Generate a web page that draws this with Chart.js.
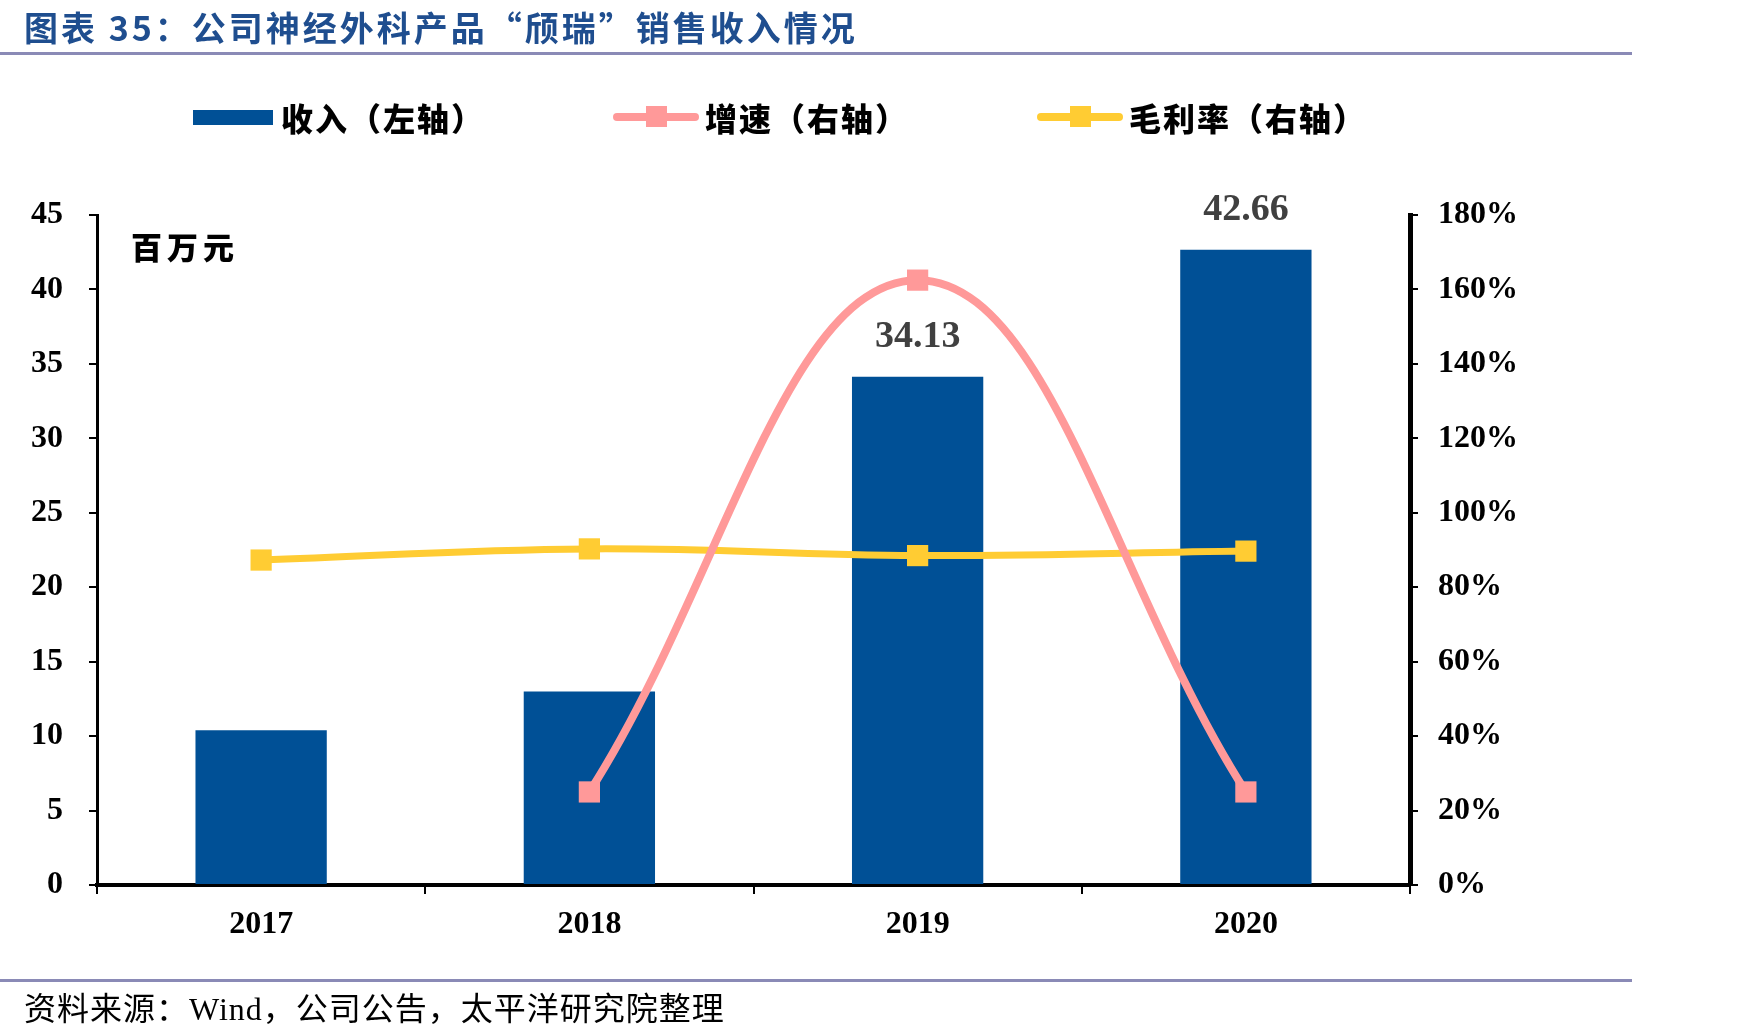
<!DOCTYPE html>
<html>
<head>
<meta charset="utf-8">
<script src="https://cdn.jsdelivr.net/npm/chart.js@4/dist/chart.umd.min.js"></script>
<style>
  body { margin: 0; background: #fff; }
  #wrap { position: relative; width: 1763px; height: 1036px; overflow: hidden; }
  #chart { position: absolute; left: 0; top: 0; }
  .title { position: absolute; left: 24px; top: 2px; font-family: "Noto Sans CJK SC", sans-serif; font-weight: 700; font-size: 34px; color: #1f4e8f; letter-spacing: 3px; white-space: nowrap; }
  .rule { position: absolute; left: 0; width: 1632px; height: 3px; background: #8a8ab6; }
  .legend-item { position: absolute; top: 97px; height: 40px; display: flex; align-items: center; font-family: "Noto Sans CJK SC", sans-serif; font-weight: 900; font-size: 32px; letter-spacing: 2px; color: #000; white-space: nowrap; }
  .unit { position: absolute; left: 131px; top: 223px; font-family: "Noto Sans CJK SC", sans-serif; font-weight: 900; font-size: 31px; letter-spacing: 5px; }
  .source { position: absolute; left: 24px; top: 983px; font-family: "Liberation Serif", "Noto Sans CJK SC", serif; font-size: 32px; color: #000; letter-spacing: 1px; white-space: nowrap; }
</style>
</head>
<body>
<div id="wrap">
  <canvas id="chart" width="1763" height="1036"></canvas>
  <div class="title">图表 35：公司神经外科产品“颀瑞”销售收入情况</div>
  <div class="rule" style="top:52px"></div>
  <div id="legend"></div>
  <div class="unit">百万元</div>
  <div class="rule" style="top:979px"></div>
  <div class="source">资料来源：Wind，公司公告，太平洋研究院整理</div>
</div>
<script>
// ==================== DATA ====================
const years = ['2017', '2018', '2019', '2020'];
const revenue = [10.4, 13.0, 34.13, 42.66];        // 百万元, left axis
const growth = [null, 25.0, 162.5, 25.0];          // %, right axis
const grossMargin = [87.3, 90.3, 88.5, 89.7];      // %, right axis
const labeledYears = ['2019', '2020'];

const seriesNames = ['收入（左轴）', '增速（右轴）', '毛利率（右轴）'];
const seriesColors = ['#005096', '#ff9999', '#ffcc33'];

const leftTicks = { min: 0, max: 45, step: 5 };
const rightTicks = { min: 0, max: 180, step: 20 };

// ==================== LEGEND ====================
function renderLegend() {
  const el = document.getElementById('legend');
  const lefts = [193, 613, 1037];
  let html = '';
  seriesNames.forEach((name, i) => {
    let sym;
    if (i === 0) {
      sym = `<span style="display:inline-block;width:80px;height:15px;background:${seriesColors[0]};margin-right:8px"></span>`;
    } else {
      sym = `<span style="position:relative;display:inline-block;width:86px;height:22px;margin-right:6px">
        <span style="position:absolute;left:0;top:7px;width:86px;height:8px;border-radius:4px;background:${seriesColors[i]}"></span>
        <span style="position:absolute;left:33px;top:0;width:21px;height:21px;background:${seriesColors[i]}"></span>
      </span>`;
    }
    html += `<div class="legend-item" style="left:${lefts[i]}px">${sym}${name}</div>`;
  });
  el.innerHTML = html;
}
renderLegend();

// ==================== CHART ====================
const tickFont = { family: "'Liberation Serif', serif", size: 32, weight: 'bold' };

const barLabelPlugin = {
  id: 'barLabels',
  afterDatasetsDraw(chart) {
    const meta = chart.getDatasetMeta(0);
    const ctx = chart.ctx;
    ctx.save();
    ctx.font = "bold 38px 'Liberation Serif', serif";
    ctx.fillStyle = '#404040';
    ctx.textAlign = 'center';
    ctx.textBaseline = 'middle';
    meta.data.forEach((bar, i) => {
      if (!labeledYears.includes(years[i])) return;
      ctx.fillText(revenue[i].toFixed(2), bar.x, bar.y - 40);
    });
    ctx.restore();
  }
};

const ctx = document.getElementById('chart').getContext('2d');
new Chart(ctx, {
  type: 'bar',
  data: {
    labels: years,
    datasets: [
      {
        label: seriesNames[0],
        data: revenue,
        backgroundColor: seriesColors[0],
        yAxisID: 'y',
        order: 3,
        categoryPercentage: 1,
        barPercentage: 0.4
      },
      {
        type: 'line',
        label: seriesNames[1],
        data: growth,
        borderColor: seriesColors[1],
        backgroundColor: seriesColors[1],
        borderWidth: 8,
        tension: 0.4,
        pointStyle: 'rect',
        pointRadius: 15,
        pointBorderWidth: 0,
        yAxisID: 'y1',
        order: 1
      },
      {
        type: 'line',
        label: seriesNames[2],
        data: grossMargin,
        borderColor: seriesColors[2],
        backgroundColor: seriesColors[2],
        borderWidth: 7,
        tension: 0.4,
        pointStyle: 'rect',
        pointRadius: 15,
        pointBorderWidth: 0,
        yAxisID: 'y1',
        order: 2
      }
    ]
  },
  options: {
    responsive: false,
    animation: false,
    layout: { padding: { left: 0, right: 113, top: 215, bottom: 91 } },
    plugins: { legend: { display: false }, tooltip: { enabled: false } },
    scales: {
      x: {
        afterFit: s => { s.height = 60; },
        grid: { drawOnChartArea: false, drawTicks: true, tickLength: 9, color: '#000', lineWidth: 2, offset: true },
        border: { display: true, color: '#000', width: 4 },
        ticks: { color: '#000', font: tickFont, padding: 12 }
      },
      y: {
        position: 'left',
        min: leftTicks.min, max: leftTicks.max,
        afterFit: s => { s.width = 97; },
        grid: { drawOnChartArea: false, drawTicks: true, tickLength: 8, color: '#000', lineWidth: 2 },
        border: { display: true, color: '#000', width: 3 },
        ticks: { stepSize: leftTicks.step, color: '#000', font: tickFont, padding: 26 }
      },
      y1: {
        position: 'right',
        min: rightTicks.min, max: rightTicks.max,
        afterFit: s => { s.width = 240; },
        grid: { drawOnChartArea: false, drawTicks: true, tickLength: 8, color: '#000', lineWidth: 2 },
        border: { display: true, color: '#000', width: 5 },
        ticks: { stepSize: rightTicks.step, color: '#000', font: tickFont, padding: 20, callback: v => v + '%' }
      }
    }
  },
  plugins: [barLabelPlugin]
});
</script>
</body>
</html>
